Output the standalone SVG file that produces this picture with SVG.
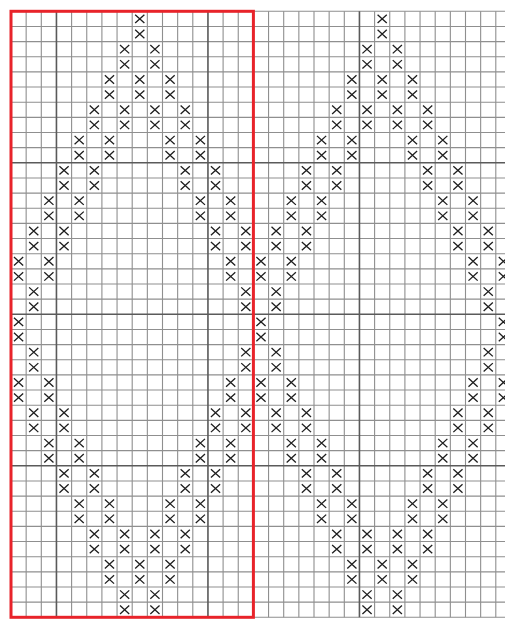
<svg xmlns="http://www.w3.org/2000/svg" xmlns:xlink="http://www.w3.org/1999/xlink" width="505" height="619" viewBox="0 0 505 619">
<style>
.thin{stroke:#8f8f8f;stroke-width:1.1;fill:none}
.bold{stroke:#5a5a5a;stroke-width:1.6;fill:none}
.x{stroke:#1e1e1e;stroke-width:1.3;fill:none}
.frame{stroke:#e8232a;stroke-width:3;fill:none}
</style>
<defs>
<path id="xx" class="x" d="M-4.6,-4.2L4.6,4.2M-4.6,4.2L4.6,-4.2M-4.6,10.95L4.6,19.35M-4.6,19.35L4.6,10.95"/>
</defs>
<rect width="505" height="619" fill="#ffffff"/>
<g id="grid">
<path class="thin" d="M11 11.3V617.3M26.15 11.3V617.3M41.3 11.3V617.3M71.6 11.3V617.3M86.75 11.3V617.3M101.9 11.3V617.3M117.05 11.3V617.3M132.2 11.3V617.3M147.35 11.3V617.3M162.5 11.3V617.3M177.65 11.3V617.3M192.8 11.3V617.3M223.1 11.3V617.3M238.25 11.3V617.3M253.4 11.3V617.3M268.55 11.3V617.3M283.7 11.3V617.3M298.85 11.3V617.3M314 11.3V617.3M329.15 11.3V617.3M344.3 11.3V617.3M374.6 11.3V617.3M389.75 11.3V617.3M404.9 11.3V617.3M420.05 11.3V617.3M435.2 11.3V617.3M450.35 11.3V617.3M465.5 11.3V617.3M480.65 11.3V617.3M495.8 11.3V617.3"/>
<path class="thin" d="M11 11.3H505M11 26.45H505M11 41.6H505M11 56.75H505M11 71.9H505M11 87.05H505M11 102.2H505M11 117.35H505M11 132.5H505M11 147.65H505M11 177.95H505M11 193.1H505M11 208.25H505M11 223.4H505M11 238.55H505M11 253.7H505M11 268.85H505M11 284H505M11 299.15H505M11 329.45H505M11 344.6H505M11 359.75H505M11 374.9H505M11 390.05H505M11 405.2H505M11 420.35H505M11 435.5H505M11 450.65H505M11 480.95H505M11 496.1H505M11 511.25H505M11 526.4H505M11 541.55H505M11 556.7H505M11 571.85H505M11 587H505M11 602.15H505M11 617.3H505"/>
<path class="bold" d="M56.45 11.3V617.3M207.95 11.3V617.3M359.45 11.3V617.3M11 162.8H505M11 314.3H505M11 465.8H505"/>
</g>
<g id="stitches">
<g id="p0" transform="translate(0,18.88)"><use href="#xx" x="139.78"/><use href="#xx" x="382.18"/></g>
<g id="p1" transform="translate(0,49.18)"><use href="#xx" x="124.63"/><use href="#xx" x="154.93"/><use href="#xx" x="367.03"/><use href="#xx" x="397.33"/></g>
<g id="p2" transform="translate(0,79.48)"><use href="#xx" x="109.48"/><use href="#xx" x="139.78"/><use href="#xx" x="170.08"/><use href="#xx" x="351.88"/><use href="#xx" x="382.18"/><use href="#xx" x="412.48"/></g>
<g id="p3" transform="translate(0,109.78)"><use href="#xx" x="94.33"/><use href="#xx" x="124.63"/><use href="#xx" x="154.93"/><use href="#xx" x="185.23"/><use href="#xx" x="336.73"/><use href="#xx" x="367.03"/><use href="#xx" x="397.33"/><use href="#xx" x="427.63"/></g>
<g id="p4" transform="translate(0,140.08)"><use href="#xx" x="79.18"/><use href="#xx" x="109.48"/><use href="#xx" x="170.08"/><use href="#xx" x="200.38"/><use href="#xx" x="321.58"/><use href="#xx" x="351.88"/><use href="#xx" x="412.48"/><use href="#xx" x="442.78"/></g>
<g id="p5" transform="translate(0,170.38)"><use href="#xx" x="64.03"/><use href="#xx" x="94.33"/><use href="#xx" x="185.23"/><use href="#xx" x="215.53"/><use href="#xx" x="306.43"/><use href="#xx" x="336.73"/><use href="#xx" x="427.63"/><use href="#xx" x="457.93"/></g>
<g id="p6" transform="translate(0,200.68)"><use href="#xx" x="48.88"/><use href="#xx" x="79.18"/><use href="#xx" x="200.38"/><use href="#xx" x="230.68"/><use href="#xx" x="291.28"/><use href="#xx" x="321.58"/><use href="#xx" x="442.78"/><use href="#xx" x="473.08"/></g>
<g id="p7" transform="translate(0,230.98)"><use href="#xx" x="33.73"/><use href="#xx" x="64.03"/><use href="#xx" x="215.53"/><use href="#xx" x="245.83"/><use href="#xx" x="276.13"/><use href="#xx" x="306.43"/><use href="#xx" x="457.93"/><use href="#xx" x="488.23"/></g>
<g id="p8" transform="translate(0,261.28)"><use href="#xx" x="18.58"/><use href="#xx" x="48.88"/><use href="#xx" x="230.68"/><use href="#xx" x="260.98"/><use href="#xx" x="291.28"/><use href="#xx" x="473.08"/><use href="#xx" x="503.38"/></g>
<g id="p9" transform="translate(0,291.58)"><use href="#xx" x="33.73"/><use href="#xx" x="245.83"/><use href="#xx" x="276.13"/><use href="#xx" x="488.23"/></g>
<g id="p10" transform="translate(0,321.88)"><use href="#xx" x="18.58"/><use href="#xx" x="260.98"/><use href="#xx" x="503.38"/></g>
<g id="p11" transform="translate(0,352.18)"><use href="#xx" x="33.73"/><use href="#xx" x="245.83"/><use href="#xx" x="276.13"/><use href="#xx" x="488.23"/></g>
<g id="p12" transform="translate(0,382.48)"><use href="#xx" x="18.58"/><use href="#xx" x="48.88"/><use href="#xx" x="230.68"/><use href="#xx" x="260.98"/><use href="#xx" x="291.28"/><use href="#xx" x="473.08"/><use href="#xx" x="503.38"/></g>
<g id="p13" transform="translate(0,412.78)"><use href="#xx" x="33.73"/><use href="#xx" x="64.03"/><use href="#xx" x="215.53"/><use href="#xx" x="245.83"/><use href="#xx" x="276.13"/><use href="#xx" x="306.43"/><use href="#xx" x="457.93"/><use href="#xx" x="488.23"/></g>
<g id="p14" transform="translate(0,443.08)"><use href="#xx" x="48.88"/><use href="#xx" x="79.18"/><use href="#xx" x="200.38"/><use href="#xx" x="230.68"/><use href="#xx" x="291.28"/><use href="#xx" x="321.58"/><use href="#xx" x="442.78"/><use href="#xx" x="473.08"/></g>
<g id="p15" transform="translate(0,473.38)"><use href="#xx" x="64.03"/><use href="#xx" x="94.33"/><use href="#xx" x="185.23"/><use href="#xx" x="215.53"/><use href="#xx" x="306.43"/><use href="#xx" x="336.73"/><use href="#xx" x="427.63"/><use href="#xx" x="457.93"/></g>
<g id="p16" transform="translate(0,503.68)"><use href="#xx" x="79.18"/><use href="#xx" x="109.48"/><use href="#xx" x="170.08"/><use href="#xx" x="200.38"/><use href="#xx" x="321.58"/><use href="#xx" x="351.88"/><use href="#xx" x="412.48"/><use href="#xx" x="442.78"/></g>
<g id="p17" transform="translate(0,533.98)"><use href="#xx" x="94.33"/><use href="#xx" x="124.63"/><use href="#xx" x="154.93"/><use href="#xx" x="185.23"/><use href="#xx" x="336.73"/><use href="#xx" x="367.03"/><use href="#xx" x="397.33"/><use href="#xx" x="427.63"/></g>
<g id="p18" transform="translate(0,564.28)"><use href="#xx" x="109.48"/><use href="#xx" x="139.78"/><use href="#xx" x="170.08"/><use href="#xx" x="351.88"/><use href="#xx" x="382.18"/><use href="#xx" x="412.48"/></g>
<g id="p19" transform="translate(0,594.58)"><use href="#xx" x="124.63"/><use href="#xx" x="154.93"/><use href="#xx" x="367.03"/><use href="#xx" x="397.33"/></g>
</g>
<g id="repeat-frame">
<rect class="frame" x="11" y="11.3" width="242.4" height="606"/>
</g>
</svg>
